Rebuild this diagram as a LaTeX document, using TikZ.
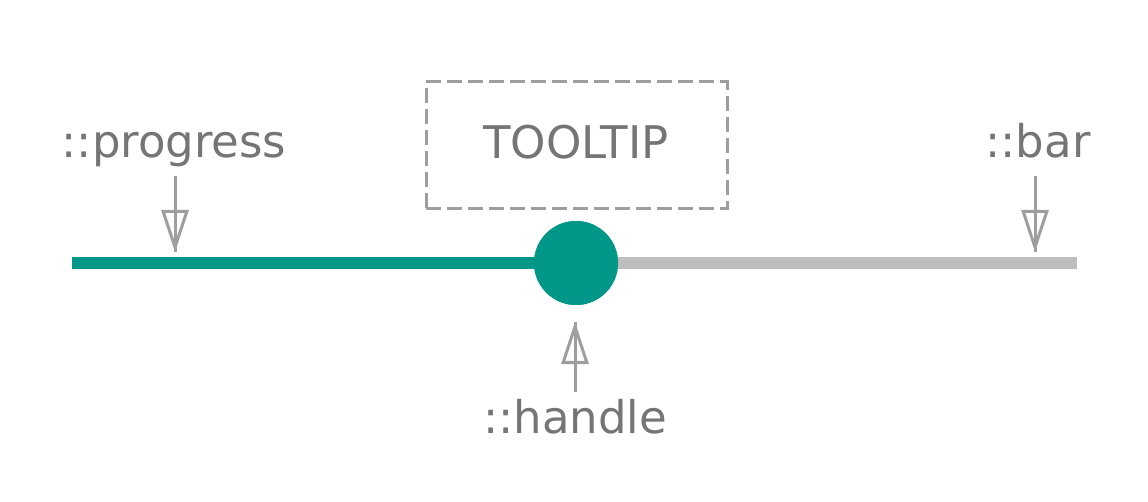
\documentclass[tikz,border=0pt]{standalone}
\usepackage{fontspec}
\setmainfont{DejaVu Sans}
\usetikzlibrary{arrows.meta}
\definecolor{teal}{HTML}{009688}
\definecolor{bargray}{HTML}{BDBDBD}
\definecolor{arrgray}{HTML}{9E9E9E}
\definecolor{txtgray}{HTML}{757575}
\tikzset{
  lbl/.style={text=txtgray, font=\fontsize{45}{54}\selectfont, inner sep=0pt, anchor=base},
  pointer/.style={draw=arrgray, line width=3pt, -{Triangle[open, length=42pt, width=27pt, line width=3pt]}},
  shaft/.style={draw=arrgray, line width=3pt},
}
\begin{document}
\begin{tikzpicture}[x=1pt,y=-1pt]
\useasboundingbox (0,0) rectangle (1148,502);
% track
\coordinate (barL) at (72,263);
\coordinate (barR) at (1077,263);
\node[circle, fill=teal, minimum size=84pt, inner sep=0pt] (handle) at (576,263) {};
\draw[bargray, line width=12pt] (handle.center) -- (barR);
\draw[teal, line width=12pt] (barL) -- (handle.center);
\node[circle, fill=teal, minimum size=84pt, inner sep=0pt] at (576,263) {};
% tooltip
\node[draw=arrgray, dash pattern=on 15pt off 6pt, line width=3pt, minimum width=301pt, minimum height=127pt, inner sep=0pt] (tip) at (576.5,145.5) {};
\node[lbl] (tiptext) at (576,159) {TOOLTIP};
% labels
\node[lbl] (progress) at (174,158) {::progress};
\node[lbl] (bar) at (1038,158) {::bar};
\node[lbl] (hlabel) at (575,433) {::handle};
% pointers
\coordinate (p1s) at (175,176);
\coordinate (p1e) at (175,252);
\coordinate (p2s) at (1035,176);
\coordinate (p2e) at (1035,252);
\coordinate (p3s) at (575,392);
\coordinate (p3e) at (575,322);
\draw[shaft] (p1s) -- (p1e);
\draw[pointer] (p1s) -- (p1e);
\draw[shaft] (p2s) -- (p2e);
\draw[pointer] (p2s) -- (p2e);
\draw[shaft] (p3s) -- (p3e);
\draw[pointer] (p3s) -- (p3e);
\end{tikzpicture}
\end{document}
